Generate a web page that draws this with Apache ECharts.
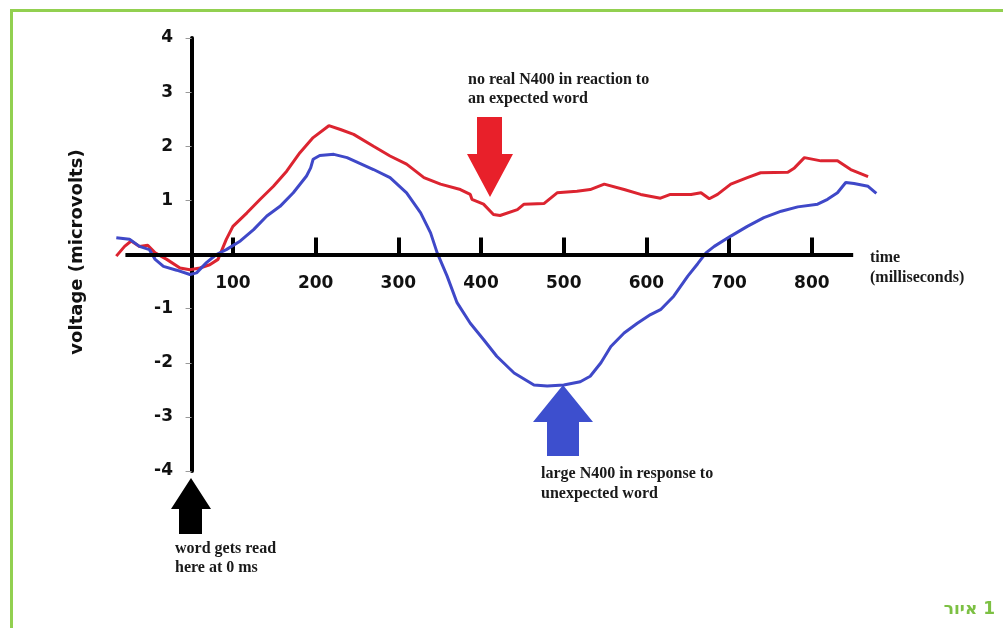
<!DOCTYPE html>
<html>
<head>
<meta charset="utf-8">
<script src="https://cdn.jsdelivr.net/npm/echarts@6/dist/echarts.min.js"></script>
<style>
html,body{margin:0;padding:0;background:#fff;}
#chart{width:1003px;height:628px;}
</style>
</head>
<body>
<div id="chart"></div>
<script>
// ---- data (time in ms, voltage in microvolts) ----
const xTickValues = [100, 200, 300, 400, 500, 600, 700, 800];
const yTickValues = [4, 3, 2, 1, -1, -2, -3, -4];
const xAxisSpan = [-30, 850];

const blueTime = [-41, -25, -13, -1, 6, 16, 32, 48, 56, 68, 80, 92, 109, 125, 141, 157, 173, 189, 194, 197, 205, 222, 238, 254, 270, 290, 310, 327, 339, 347, 359, 371, 387, 403, 419, 440, 464, 480, 500, 520, 532, 545, 557, 573, 589, 605, 617, 633, 650, 662, 672, 682, 702, 722, 742, 763, 783, 807, 819, 831, 841, 851, 868, 878];
const blueVolt = [0.31, 0.28, 0.15, 0.09, -0.09, -0.22, -0.29, -0.37, -0.34, -0.15, 0, 0.09, 0.25, 0.46, 0.71, 0.89, 1.14, 1.45, 1.6, 1.76, 1.83, 1.85, 1.79, 1.68, 1.57, 1.42, 1.14, 0.77, 0.40, 0.03, -0.40, -0.89, -1.27, -1.57, -1.88, -2.19, -2.41, -2.43, -2.41, -2.35, -2.25, -2.0, -1.70, -1.45, -1.27, -1.11, -1.02, -0.77, -0.40, -0.17, 0.03, 0.15, 0.34, 0.52, 0.68, 0.80, 0.88, 0.93, 1.02, 1.14, 1.33, 1.31, 1.26, 1.13];

const redTime = [-41, -31, -23, -13, -3, 6, 20, 36, 48, 60, 72, 82, 92, 100, 117, 133, 149, 165, 181, 197, 216, 230, 246, 270, 290, 310, 331, 351, 375, 387, 389, 403, 415, 423, 444, 452, 476, 492, 516, 532, 549, 573, 593, 617, 629, 654, 666, 676, 686, 702, 722, 738, 771, 779, 791, 811, 831, 847, 868];
const redVolt = [-0.03, 0.15, 0.25, 0.15, 0.17, 0.03, -0.09, -0.25, -0.28, -0.25, -0.19, -0.09, 0.28, 0.52, 0.77, 1.02, 1.26, 1.54, 1.88, 2.16, 2.38, 2.31, 2.22, 2.0, 1.82, 1.67, 1.42, 1.30, 1.20, 1.11, 1.02, 0.93, 0.74, 0.72, 0.83, 0.93, 0.94, 1.14, 1.17, 1.20, 1.30, 1.20, 1.11, 1.04, 1.11, 1.11, 1.14, 1.03, 1.11, 1.30, 1.42, 1.51, 1.52, 1.60, 1.79, 1.73, 1.73, 1.57, 1.44];

const blueData = blueTime.map((t, i) => [t, blueVolt[i]]);
const redData = redTime.map((t, i) => [t, redVolt[i]]);

const serif = "'Liberation Serif', 'Times New Roman', serif";
const sansWide = "'DejaVu Sans', sans-serif";

const chart = echarts.init(document.getElementById('chart'), null, {renderer: 'canvas'});
chart.setOption({
  animation: false,
  backgroundColor: '#ffffff',
  grid: {left: 113, right: 125, top: 38, bottom: 157, containLabel: false},
  xAxis: [
    {
      type: 'value', min: -45, max: 880,
      axisLine: {show: true, onZero: true, lineStyle: {color: 'rgba(0,0,0,0)', width: 4}},
      axisTick: {show: true, inside: true, length: 17, customValues: xTickValues, lineStyle: {color: '#000', width: 4}},
      axisLabel: {show: true, customValues: xTickValues, margin: -196, color: '#111', fontFamily: sansWide, fontWeight: 'bold', fontSize: 17},
      splitLine: {show: false}
    },
    {
      type: 'value', min: -95, max: 830, show: false,
      axisLine: {show: false}, axisTick: {show: false}, axisLabel: {show: false}, splitLine: {show: false}
    }
  ],
  yAxis: {
    type: 'value', min: -4, max: 4, interval: 1,
    axisLine: {show: true, onZero: true, onZeroAxisIndex: 1, lineStyle: {color: '#000', width: 4}},
    axisTick: {show: true, length: 6, customValues: yTickValues, lineStyle: {color: '#999', width: 1}},
    axisLabel: {show: true, customValues: yTickValues, margin: -60, color: '#111', fontFamily: sansWide, fontWeight: 'bold', fontSize: 17},
    splitLine: {show: false}
  },
  series: [
    {
      type: 'line', name: 'axis', data: [], xAxisIndex: 0, yAxisIndex: 0, z: 2,
      markLine: {
        silent: true, symbol: 'none', animation: false,
        label: {show: false},
        lineStyle: {color: '#000', width: 4, type: 'solid'},
        data: [[{coord: [xAxisSpan[0], 0]}, {coord: [xAxisSpan[1], 0]}]]
      }
    },
    {
      type: 'line', name: 'expected', data: redData, xAxisIndex: 0, yAxisIndex: 0,
      showSymbol: false, smooth: false,
      lineStyle: {color: '#dc2430', width: 3}, z: 3
    },
    {
      type: 'line', name: 'unexpected', data: blueData, xAxisIndex: 0, yAxisIndex: 0,
      showSymbol: false, smooth: false,
      lineStyle: {color: '#3f48c8', width: 3}, z: 4
    }
  ],
  graphic: [
    {type: 'rect', shape: {x: 11.5, y: 10.5, width: 1200, height: 900}, style: {fill: null, stroke: '#92d050', lineWidth: 3}, silent: true, z: 1},
    // y axis title
    {type: 'text', x: 77, y: 252, rotation: Math.PI / 2,
      style: {text: 'voltage (microvolts)', fontFamily: sansWide, fontWeight: 'bold', fontSize: 18, fill: '#111', align: 'center', verticalAlign: 'middle'}},
    // annotations
    {type: 'text', x: 468, y: 70.5,
      style: {text: 'no real N400 in reaction to\nan expected word', fontFamily: serif, fontWeight: 'bold', fontSize: 16, lineHeight: 19, fill: '#1a1a1a', align: 'left', verticalAlign: 'top'}},
    {type: 'text', x: 541, y: 463.5,
      style: {text: 'large N400 in response to\nunexpected word', fontFamily: serif, fontWeight: 'bold', fontSize: 16, lineHeight: 20, fill: '#1a1a1a', align: 'left', verticalAlign: 'top'}},
    {type: 'text', x: 175, y: 539.5,
      style: {text: 'word gets read\nhere at 0 ms', fontFamily: serif, fontWeight: 'bold', fontSize: 16, lineHeight: 19, fill: '#1a1a1a', align: 'left', verticalAlign: 'top'}},
    {type: 'text', x: 870, y: 247.5,
      style: {text: 'time\n(milliseconds)', fontFamily: serif, fontWeight: 'bold', fontSize: 16, lineHeight: 20, fill: '#1a1a1a', align: 'left', verticalAlign: 'top'}},
    {type: 'text', x: 995, y: 609.5,
      style: {text: 'איור\u200E 1', fontFamily: sansWide, fontWeight: 'bold', fontSize: 17, fill: '#7cc043', align: 'right', verticalAlign: 'middle'}},
    // arrows
    {type: 'polygon', shape: {points: [[477,117],[502,117],[502,154],[513,154],[490,197],[467,154],[477,154]]}, style: {fill: '#e8202a'}},
    {type: 'polygon', shape: {points: [[563,385],[593,422],[579,422],[579,456],[547,456],[547,422],[533,422]]}, style: {fill: '#3d4fce'}},
    {type: 'polygon', shape: {points: [[191,478],[211,509],[202,509],[202,534],[179,534],[179,509],[171,509]]}, style: {fill: '#000'}}
  ]
});
</script>
</body>
</html>
